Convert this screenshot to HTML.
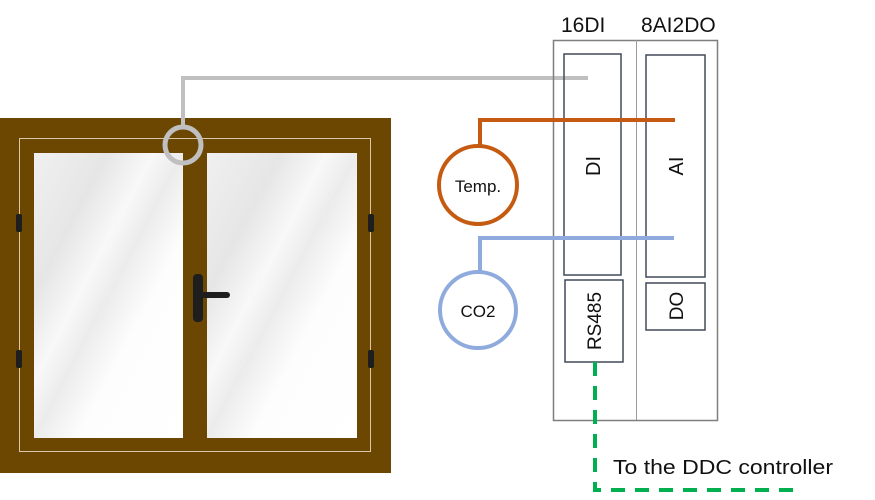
<!DOCTYPE html>
<html><head><style>body{margin:0;background:#fff}</style></head><body>
<svg width="875" height="495" xmlns="http://www.w3.org/2000/svg" font-family="Liberation Sans, sans-serif">
<defs>
<linearGradient id="g" x1="0" y1="0" x2="1" y2="1">
<stop offset="0" stop-color="#f0f0f0"/><stop offset="0.25" stop-color="#e6e6e6"/><stop offset="0.4" stop-color="#f8f8f8"/><stop offset="0.5" stop-color="#ececec"/><stop offset="0.65" stop-color="#fdfdfd"/><stop offset="1" stop-color="#fff"/>
</linearGradient>
</defs>
<rect x="0" y="118" width="391" height="355" fill="#6b4702"/>
<rect x="19.5" y="138.5" width="351" height="313" fill="none" stroke="#d8c8a8" stroke-width="1"/>
<rect x="34" y="153" width="149" height="285" fill="url(#g)"/>
<rect x="207" y="153" width="150" height="285" fill="url(#g)"/>
<rect x="16" y="214" width="6" height="18" rx="2" fill="#1e1e1e"/>
<rect x="16" y="350" width="6" height="18" rx="2" fill="#1e1e1e"/>
<rect x="368" y="214" width="6" height="18" rx="2" fill="#1e1e1e"/>
<rect x="368" y="350" width="6" height="18" rx="2" fill="#1e1e1e"/>
<rect x="193" y="274" width="10" height="48" rx="4" fill="#1e1e1e"/>
<rect x="197" y="292" width="33" height="6" rx="3" fill="#1e1e1e"/>
<polyline points="183,127 183,78 588,78" fill="none" stroke="#c0c0c0" stroke-width="4"/>
<circle cx="183" cy="145" r="18" fill="none" stroke="#c0c0c0" stroke-width="5"/>
<rect x="553.5" y="40.5" width="164" height="380" fill="none" stroke="#7f7f7f" stroke-width="1.5"/>
<line x1="636.5" y1="40" x2="636.5" y2="420" stroke="#9a9a9a" stroke-width="1"/>
<text x="561" y="32" font-size="21" fill="#111">16DI</text>
<text x="641" y="32" font-size="21" fill="#111">8AI2DO</text>
<rect x="564" y="54" width="57" height="221" fill="none" stroke="#404a5a" stroke-width="1.5"/>
<rect x="646" y="55" width="59" height="222" fill="none" stroke="#404a5a" stroke-width="1.5"/>
<rect x="565" y="280" width="58" height="82" fill="none" stroke="#404a5a" stroke-width="1.5"/>
<rect x="646" y="283" width="59" height="47" fill="none" stroke="#404a5a" stroke-width="1.5"/>
<text transform="translate(600,166) rotate(-90)" text-anchor="middle" font-size="20" fill="#111">DI</text>
<text transform="translate(683,166) rotate(-90)" text-anchor="middle" font-size="20" fill="#111">AI</text>
<text transform="translate(601,321) rotate(-90)" text-anchor="middle" font-size="19" fill="#111">RS485</text>
<text transform="translate(683,306) rotate(-90)" text-anchor="middle" font-size="19" fill="#111">DO</text>
<polyline points="675,120 480,120 480,146" fill="none" stroke="#c55a11" stroke-width="4"/>
<circle cx="478" cy="185" r="39" fill="#fff" stroke="#c55a11" stroke-width="4"/>
<text x="478" y="192" text-anchor="middle" font-size="17" fill="#111">Temp.</text>
<polyline points="674,238 480,238 480,272" fill="none" stroke="#8faadc" stroke-width="4"/>
<circle cx="478" cy="310" r="38" fill="#fff" stroke="#8faadc" stroke-width="4"/>
<text x="478" y="317" text-anchor="middle" font-size="17" fill="#111">CO2</text>
<polyline points="595,362 595,490 803,490" fill="none" stroke="#00b050" stroke-width="4" stroke-dasharray="14,10"/>
<text x="613" y="474" font-size="20" fill="#111" textLength="220" lengthAdjust="spacingAndGlyphs">To the DDC controller</text>
</svg>
</body></html>
